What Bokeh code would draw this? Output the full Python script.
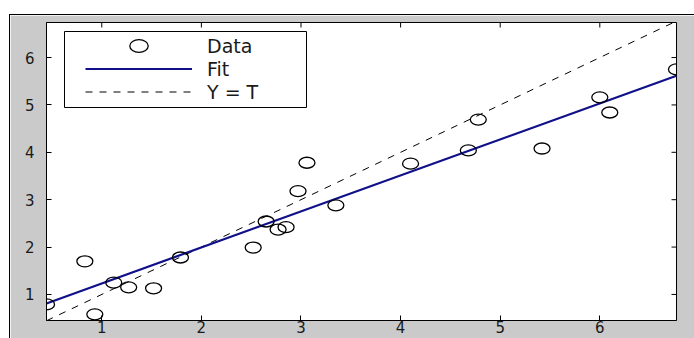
import math
from bokeh.plotting import figure
from bokeh.models import Range1d, Legend, LegendItem, FixedTicker
from bokeh.embed import file_html
from bokeh.resources import INLINE

# ---- data ----
t_vals = [0.445, 0.83, 0.93, 1.12, 1.27, 1.52, 1.79, 2.52, 2.65, 2.77, 2.85,
          2.97, 3.06, 3.35, 4.10, 4.68, 4.78, 5.42, 6.00, 6.10, 6.77]
y_vals = [0.79, 1.70, 0.58, 1.25, 1.15, 1.13, 1.78, 1.99, 2.54, 2.37, 2.42,
          3.18, 3.78, 2.88, 3.76, 4.04, 4.69, 4.08, 5.16, 4.84, 5.75]
fit_slope = 0.760
fit_intercept = 0.472
x_limits = [0.445, 6.77]
y_limits = [0.45, 6.74]
x_ticks = [1, 2, 3, 4, 5, 6]
y_ticks = [1, 2, 3, 4, 5, 6]
legend_labels = ["Data", "Fit", "Y = T"]

FONT = "DejaVu Sans"
FW, FH = 630, 298

p = figure(frame_width=FW, frame_height=FH,
           x_range=Range1d(*x_limits), y_range=Range1d(*y_limits),
           output_backend="svg", toolbar_location=None,
           min_border_left=36, min_border_top=7, min_border_right=18, min_border_bottom=18,
           border_fill_color="#cacaca", background_fill_color="white",
           outline_line_color="black", outline_line_width=1,
           styles={"margin-top": "14px", "margin-left": "9px",
                   "border-top": "1px solid black", "border-left": "1px solid black"})
p.grid.visible = False

for ax in (p.xaxis[0], p.yaxis[0]):
    ax.major_tick_in = 5
    ax.major_tick_out = 0
    ax.minor_tick_line_color = None
    ax.axis_line_color = "black"
    ax.major_tick_line_color = "black"
    ax.major_label_text_font = FONT
    ax.major_label_text_font_size = "15px"
    ax.major_label_text_color = "#1a1a1a"
p.xaxis[0].ticker = FixedTicker(ticks=x_ticks)
p.yaxis[0].ticker = FixedTicker(ticks=y_ticks)
p.xaxis[0].major_label_standoff = 0
p.yaxis[0].major_label_standoff = 12

# inward tick marks on the top and right edges of the box
p.ray(x=x_ticks, y=[y_limits[1]] * len(x_ticks), length=5, length_units="screen",
      angle=-math.pi / 2, line_color="black", line_width=1)
p.ray(x=[x_limits[1]] * len(y_ticks), y=y_ticks, length=5, length_units="screen",
      angle=math.pi, line_color="black", line_width=1)

def px_to_x(px):
    return x_limits[0] + px / FW * (x_limits[1] - x_limits[0])

def px_to_y(py):
    return y_limits[1] - py / FH * (y_limits[1] - y_limits[0])

# legend frame
p.quad(left=[px_to_x(18)], right=[px_to_x(260)], top=[px_to_y(9)], bottom=[px_to_y(85)],
       fill_color="white", line_color="black", line_width=1)

line_x = list(x_limits)
ident = p.line(line_x, line_x, line_color="black", line_width=1, line_dash="7 7")
fit = p.line(line_x, [fit_intercept + fit_slope * v for v in line_x],
             line_color="#10108a", line_width=2.2)
data = p.ellipse(t_vals, y_vals, width=16, height=11, width_units="screen", height_units="screen",
                 fill_color=None, line_color="black", line_width=1.3)

legend = Legend(items=[LegendItem(label=legend_labels[0], renderers=[data]),
                       LegendItem(label=legend_labels[1], renderers=[fit]),
                       LegendItem(label=legend_labels[2], renderers=[ident])],
                location=(39, 217), padding=0, margin=0, spacing=0,
                glyph_width=107, glyph_height=23, label_height=23, label_standoff=15,
                border_line_color=None, background_fill_alpha=0,
                label_text_font=FONT, label_text_font_size="19px", label_text_color="#1a1a1a")
p.add_layout(legend)

open("out.html", "w").write(file_html(p, INLINE))
